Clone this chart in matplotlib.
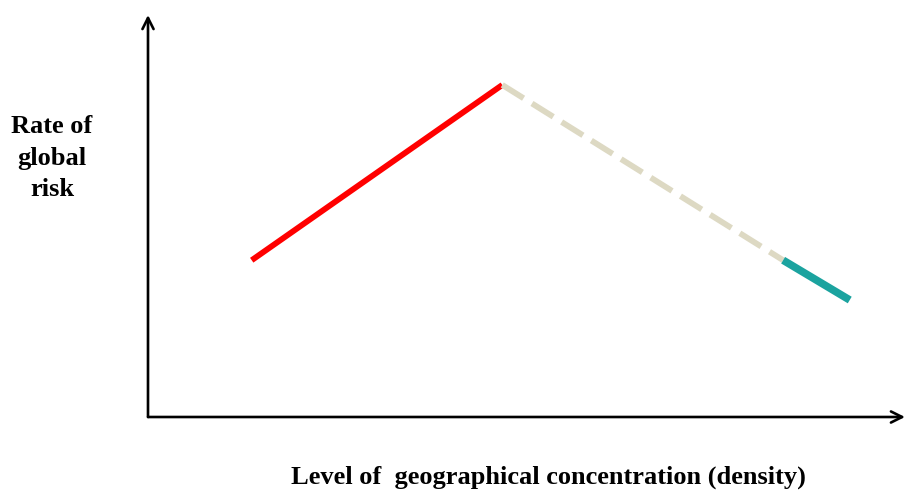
import matplotlib
matplotlib.use("Agg")
import matplotlib.pyplot as plt

# Data (arbitrary conceptual units)
rise_x = [1.37, 4.68]
rise_y = [3.90, 8.26]
fall_x = [4.68, 8.39]
fall_y = [8.26, 3.90]
tail_x = [8.39, 9.27]
tail_y = [3.90, 2.91]

ylabel_text = "Rate of\nglobal\nrisk"
xlabel_text = "Level of  geographical concentration (density)"

fig = plt.figure(figsize=(9.06, 4.93), dpi=100)
fig.patch.set_facecolor("white")
left = 148 / 906
bottom = (493 - 417) / 493
width = (905 - 148) / 906
height = (417 - 15) / 493
ax = fig.add_axes([left, bottom, width, height])
ax.set_xlim(0, 10)
ax.set_ylim(0, 10)
ax.axis("off")

# axes arrows
ax.annotate("", xy=(0, 10), xytext=(0, 0),
            arrowprops=dict(arrowstyle="->", color="black", lw=1.9,
                            mutation_scale=20, shrinkA=0, shrinkB=0),
            annotation_clip=False)
ax.annotate("", xy=(10, 0), xytext=(0, 0),
            arrowprops=dict(arrowstyle="->", color="black", lw=1.9,
                            mutation_scale=20, shrinkA=0, shrinkB=0),
            annotation_clip=False)

ax.plot(rise_x, rise_y, color="#FF0000", lw=4.2, solid_capstyle="butt")
ax.plot(fall_x, fall_y, color="#DDD9C3", lw=4.2, dashes=(4.3, 1.7),
        dash_capstyle="butt")
ax.plot(tail_x, tail_y, color="#1BA39F", lw=5.5, solid_capstyle="butt")

fig.text(52 / 906, 1 - 158 / 493, ylabel_text, ha="center", va="center",
         fontsize=19, fontweight="bold", family="Liberation Serif",
         linespacing=1.45)
fig.text(548 / 906, 1 - 477 / 493, xlabel_text, ha="center", va="center",
         fontsize=19, fontweight="bold", family="Liberation Serif")

fig.savefig("out.png", dpi=100, facecolor="white")
